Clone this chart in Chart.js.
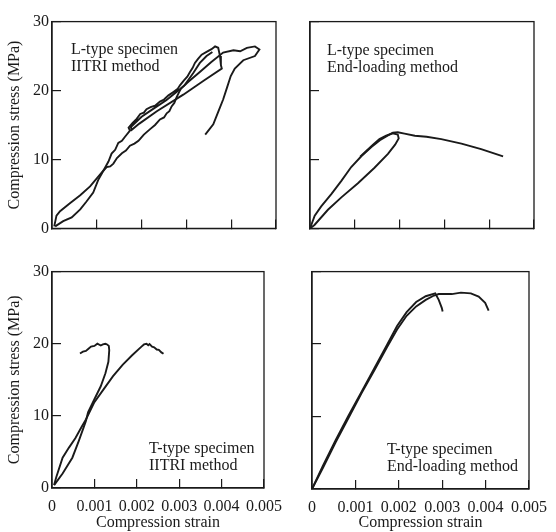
<!DOCTYPE html>
<html>
<head>
<meta charset="utf-8">
<script src="https://cdn.jsdelivr.net/npm/chart.js@4.4.1/dist/chart.umd.min.js"></script>
<style>
html, body { margin: 0; padding: 0; background: #fff; overflow: hidden; }
body { width: 556px; height: 532px; position: relative; }
canvas { position: absolute; }
</style>
</head>
<body>
<canvas id="tl" width="300" height="250" style="left:0;top:0"></canvas>
<canvas id="tr" width="266" height="250" style="left:290px;top:0"></canvas>
<canvas id="bl" width="300" height="282" style="left:0;top:250px"></canvas>
<canvas id="br" width="275" height="282" style="left:290px;top:250px"></canvas>
<script>
// tick labels
const strainLabels = ['0', '0.001', '0.002', '0.003', '0.004', '0.005']
const stressLabels = ['0', '10', '20', '30']

// L-type, IITRI method (two specimens)
const strainA1 = [0.00007,0.00025,0.00044,0.00063,0.00077,0.00092,0.00103,0.00115,0.00126,0.00133,0.00141,0.00148,0.00156,0.00163,0.00174,0.00171,
  0.0018,0.00189,0.00197,0.00205,0.00211,0.0022,0.0023,0.00241,0.0025,0.0026,0.00271,0.0028,0.00286,0.00295,0.00302,0.00308,0.00314,0.00319,0.00326,0.00334,0.00345,0.00356,0.00364,0.00371,0.00375,0.00377,0.00379,
  0.0034,0.00293,0.00234,0.00195,0.00178,0.00176,0.002,0.00225,0.00255,0.0028,0.00295,0.00315,0.0033,0.00345,0.00358]
const stressA1 = [0.3,1.05,1.6,2.75,3.9,5.2,7.0,8.4,9.7,10.85,11.4,12.4,12.7,13.3,14.2,14.6,
  15.3,15.9,16.6,16.8,17.3,17.6,17.8,18.4,18.7,19.3,19.8,20.2,20.8,21.5,22.0,22.7,23.3,24.0,24.6,25.2,25.6,26.0,26.4,26.2,25.0,23.7,23.2,
  21.5,19.4,17.0,15.2,14.3,14.7,16.2,17.3,18.6,19.9,20.7,22.5,24.0,25.0,25.6]
const strainB1 = [0.00005,0.0001,0.00018,0.0004,0.00063,0.00085,0.001,0.00115,0.00122,0.0013,0.00137,0.00145,0.00156,0.00165,0.00174,0.00184,0.00193,0.00205,0.00219,0.0023,0.00241,0.0025,
  0.00256,0.00262,0.00267,0.00273,0.00278,0.00284,0.00288,0.00305,0.0033,0.00355,0.00382,0.00405,0.0042,0.00435,0.00453,0.00463,0.00453,
  0.00427,0.00408,0.00399,0.00391,0.00382,0.00371,0.0036,0.00342]
const stressB1 = [0.3,1.85,2.5,3.65,4.8,6.1,7.25,8.4,8.9,9.0,9.4,10.2,10.9,11.3,12.0,12.3,12.7,13.6,14.4,15.0,15.8,16.1,
  16.7,17.0,17.7,18.2,19.0,19.8,20.3,21.3,22.7,24.1,25.5,25.85,25.7,26.2,26.4,25.95,25.0,
  24.4,23.2,22.1,20.5,18.7,16.9,15.1,13.6]

// L-type, end-loading method
const strainA2 = [0,0.000105,0.00025,0.00048,0.0007,0.00092,0.00115,0.00137,0.00156,0.00174,0.00185,0.00196,0.00211,0.00234,0.0026,0.00293,0.00338,0.00382,0.00431]
const stressA2 = [0,1.85,3.2,5.0,6.9,8.9,10.5,11.8,12.8,13.5,13.9,13.95,13.75,13.45,13.3,12.95,12.3,11.5,10.45]
const strainB2 = [0,0.0001,0.0004,0.0007,0.00107,0.00144,0.00174,0.0019,0.00198,0.00196,0.00185,0.0017,0.00155,0.0014,0.00125,0.00112]
const stressB2 = [0,0.5,2.7,4.5,6.55,8.8,10.8,12.15,13.05,13.6,13.8,13.45,12.95,12.1,11.2,10.4]

// T-type, IITRI method
const strainA3 = [0.00005,0.00025,0.00048,0.00063,0.00074,0.0008,0.00085,0.001,0.00115,0.00126,0.00133,0.00135,0.00134,0.0013,0.00126,0.0012,0.00115,0.00107,0.001,0.00092,0.00086,0.0008,0.00073,0.00066]
const stressA3 = [0.4,2.0,4.2,6.5,8.3,9.3,10.5,12.3,14.1,15.9,17.5,19.1,19.7,19.9,20.0,19.9,19.75,20.0,19.7,19.6,19.3,19.0,18.9,18.65]
const strainB3 = [0.00005,0.0001,0.00025,0.0004,0.00055,0.0007,0.0008,0.001,0.00122,0.00144,0.00167,0.00189,0.00211,0.00217,0.00223,0.00227,0.0023,0.00236,0.00241,0.00247,0.00252,0.00258,0.00263]
const stressB3 = [0.4,1.5,4.2,5.6,6.9,8.5,9.5,11.9,13.7,15.5,17.1,18.4,19.6,19.9,20.0,19.8,19.95,19.6,19.5,19.2,19.15,18.8,18.6]

// T-type, end-loading method
const strainA4 = [0,0.00025,0.00055,0.00084,0.00114,0.00144,0.00173,0.00196,0.00218,0.0024,0.00262,0.00284,0.00292,0.00299,0.00301]
const stressA4 = [0,3.2,6.8,10.1,13.4,16.7,19.9,22.5,24.4,25.8,26.6,27.0,26.1,25.0,24.5]
const strainB4 = [0,0.00025,0.00055,0.00084,0.00114,0.00144,0.00173,0.00196,0.00218,0.0024,0.00262,0.00281,0.00292,0.00322,0.00343,0.00366,0.00384,0.00399,0.00407]
const stressB4 = [0,2.9,6.5,9.8,13.2,16.4,19.6,22.0,23.9,25.2,26.1,26.7,26.9,26.9,27.1,27.0,26.55,25.7,24.6]

const ink = '#1a1a1a'
const font = { family: '"Liberation Serif", "Times New Roman", serif', size: 16 }

function pts(xs, ys) {
  return xs.map((x, i) => ({ x: x, y: ys[i] }))
}

// frame round the plot area
const boxPlugin = {
  id: 'box',
  afterDraw(chart) {
    const a = chart.chartArea, c = chart.ctx
    c.save()
    c.strokeStyle = ink
    c.lineWidth = 1.3
    c.strokeRect(a.left, a.top, a.right - a.left, a.bottom - a.top)
    c.restore()
  }
}

// specimen / method text inside the panel
const notePlugin = {
  id: 'note',
  afterDraw(chart, args, opts) {
    const a = chart.chartArea, c = chart.ctx
    c.save()
    c.fillStyle = ink
    c.font = '16px "Liberation Serif", serif'
    c.textBaseline = 'middle'
    opts.lines.forEach((t, i) => c.fillText(t, a.left + opts.dx, a.top + opts.dy + i * 17))
    c.restore()
  }
}

function panel(id, curves, cfg) {
  new Chart(document.getElementById(id), {
    type: 'scatter',
    data: {
      datasets: curves.map(c => ({
        data: pts(c[0], c[1]),
        showLine: true,
        borderColor: ink,
        borderWidth: 1.9,
        pointRadius: 0,
        tension: 0,
        fill: false
      }))
    },
    options: {
      responsive: false,
      animation: false,
      events: [],
      layout: { padding: cfg.pad },
      plugins: {
        legend: { display: false },
        tooltip: { enabled: false },
        note: { lines: cfg.note, dx: cfg.dx, dy: cfg.dy }
      },
      scales: {
        x: {
          type: 'linear', min: 0, max: 0.005,
          afterFit(s) { s.height = cfg.xh },
          ticks: {
            stepSize: 0.001, padding: 18, color: ink, font: font,
            autoSkip: false, maxRotation: 0,
            callback: (v, i) => cfg.xlab ? strainLabels[i] : ''
          },
          grid: { drawOnChartArea: false, tickLength: -9, color: ink, lineWidth: 1.2 },
          border: { color: ink, width: 1.3 },
          title: { display: cfg.xlab, text: 'Compression strain', font: font, color: ink, padding: { top: 0, bottom: 0 } }
        },
        y: {
          type: 'linear', min: 0, max: 30,
          afterFit(s) { s.width = cfg.yw },
          ticks: {
            stepSize: 10, padding: 12, color: ink, font: font,
            callback: (v, i) => cfg.ylab ? stressLabels[i] : ''
          },
          grid: { drawOnChartArea: false, tickLength: -9, color: ink, lineWidth: 1.2 },
          border: { color: ink, width: 1.3 },
          title: { display: cfg.ylab, text: 'Compression stress (MPa)', font: font, color: ink, padding: { top: 5, bottom: 0 } }
        }
      }
    },
    plugins: [boxPlugin, notePlugin]
  })
}

panel('tl', [[strainA1, stressA1], [strainB1, stressB1]], {
  pad: { top: 15, right: 24, left: 0, bottom: 0 }, xh: 13, yw: 52, xlab: false, ylab: true,
  note: ['L-type specimen', 'IITRI method'], dx: 19, dy: 28
})
panel('tr', [[strainA2, stressA2], [strainB2, stressB2]], {
  pad: { top: 14, right: 22, left: 0, bottom: 0 }, xh: 13, yw: 20, xlab: false, ylab: false,
  note: ['L-type specimen', 'End-loading method'], dx: 17, dy: 29
})
panel('bl', [[strainA3, stressA3], [strainB3, stressB3]], {
  pad: { top: 16, right: 24, left: 0, bottom: 0 }, xh: 44, yw: 52, xlab: true, ylab: true,
  note: ['T-type specimen', 'IITRI method'], dx: 97, dy: 177
})
panel('br', [[strainA4, stressA4], [strainB4, stressB4]], {
  pad: { top: 16, right: 28, left: 0, bottom: 0 }, xh: 43, yw: 22, xlab: true, ylab: false,
  note: ['T-type specimen', 'End-loading method'], dx: 75, dy: 178
})
</script>
</body>
</html>
